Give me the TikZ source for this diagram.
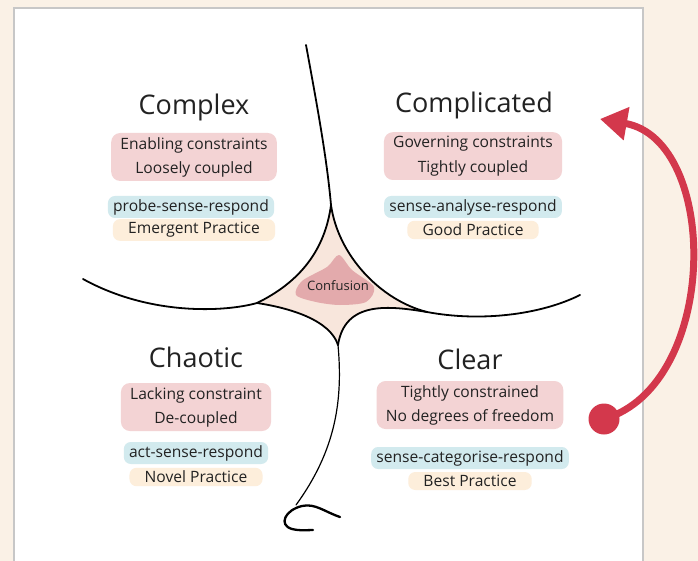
\documentclass[tikz,border=0pt]{standalone}
\usepackage{fontspec}
\setmainfont{Open Sans}
\usetikzlibrary{positioning,fit,arrows.meta}
\definecolor{cream}{HTML}{FAF1E6}
\definecolor{ink}{HTML}{222222}
\definecolor{blush}{HTML}{F3D3D4}
\definecolor{sky}{HTML}{D2EAEE}
\definecolor{apricot}{HTML}{FDEEDB}
\definecolor{flesh}{HTML}{F8E6DC}
\definecolor{rose}{HTML}{E3AAAC}
\definecolor{signal}{HTML}{D3384C}
\pgfdeclarelayer{paper}
\pgfdeclarelayer{wash}
\pgfsetlayers{paper,wash,main}
\begin{document}
\begin{tikzpicture}[x=1pt,y=-1pt,
  zonetitle/.style={font=\fontsize{27}{29}\selectfont,text=ink},
  zoneitem/.style={font=\fontsize{15.6}{17}\selectfont,text=ink,inner sep=1pt},
  pinkwash/.style={fill=blush,rounded corners=9pt,inner xsep=8pt,inner ysep=3pt},
  bluewash/.style={fill=sky,rounded corners=7pt,inner xsep=4pt,inner ysep=2pt},
  peachwash/.style={fill=apricot,rounded corners=7pt,inner xsep=14pt,inner ysep=2pt},
  stroke/.style={draw=black,line width=1.8pt,line cap=round}]
\useasboundingbox (0,0) rectangle (698,561);
\begin{pgfonlayer}{paper}
\fill[cream] (0,0) rectangle (698,561);
\draw[fill=white,draw=black!22,line width=1.5pt] (14,8) rectangle (643,575);
\end{pgfonlayer}
\node [zonetitle] (cx) at (194,107) {Complex};
\node [zoneitem] (cx1) at (194,145) {Enabling constraints};
\node [zoneitem] (cx2) at (194,169) {Loosely coupled};
\node [zoneitem] (cx3) at (191,207) {probe-sense-respond};
\node [zoneitem] (cx4) at (194,230) {Emergent Practice};
\node [zonetitle] (cd) at (474,105) {Complicated};
\node [zoneitem] (cd1) at (473,144) {Governing constraints};
\node [zoneitem] (cd2) at (473,168) {Tightly coupled};
\node [zoneitem] (cd3) at (473,207) {sense-analyse-respond};
\node [zoneitem] (cd4) at (473,230) {Good Practice};
\node [zonetitle] (ch) at (196,357) {Chaotic};
\node [zoneitem] (ch1) at (196,395) {Lacking constraint};
\node [zoneitem] (ch2) at (196,419) {De-coupled};
\node [zoneitem] (ch3) at (196,453) {act-sense-respond};
\node [zoneitem] (ch4) at (196,477) {Novel Practice};
\node [zonetitle] (cl) at (470,359) {Clear};
\node [zoneitem] (cl1) at (470,393) {Tightly constrained};
\node [zoneitem] (cl2) at (470,417) {No degrees of freedom};
\node [zoneitem] (cl3) at (470,458) {sense-categorise-respond};
\node [zoneitem] (cl4) at (470,481) {Best Practice};
\begin{pgfonlayer}{wash}
\node [pinkwash,fit=(cx1)(cx2)] (cxp) {};
\node [bluewash,fit=(cx3)] (cxb) {};
\node [peachwash,fit=(cx4)] (cxo) {};
\node [pinkwash,fit=(cd1)(cd2)] (cdp) {};
\node [bluewash,fit=(cd3)] (cdb) {};
\node [peachwash,fit=(cd4)] (cdo) {};
\node [pinkwash,fit=(ch1)(ch2)] (chp) {};
\node [bluewash,fit=(ch3)] (chb) {};
\node [peachwash,fit=(ch4)] (cho) {};
\node [pinkwash,fit=(cl1)(cl2)] (clp) {};
\node [bluewash,fit=(cl3)] (clb) {};
\node [peachwash,fit=(cl4)] (clo) {};
\fill[flesh] (331,205) .. controls (338,255) and (380,300) .. (427,312)
  .. controls (390,306) and (345,300) .. (338,345)
  .. controls (330,320) and (290,308) .. (257,303)
  .. controls (300,282) and (325,250) .. cycle;
\fill[rose] plot[smooth cycle] coordinates {(339,255) (352,270) (374,287) (366,302) (340,305) (316,302) (296,295) (302,281) (327,267)};
\end{pgfonlayer}
\node [font=\fontsize{13}{15}\selectfont,text=ink] (confusion) at (338,286) {Confusion};
\coordinate (apex) at (331,205);
\coordinate (foot) at (338,345);
\coordinate (west) at (257,303);
\coordinate (east) at (427,312);
\draw [stroke] (83,279) .. controls (150,316) and (225,312) .. (west)
  .. controls (300,282) and (325,250) .. (apex)
  .. controls (327,160) and (318,110) .. (306,45);
\draw [stroke] (apex) .. controls (338,255) and (380,300) .. (east)
  .. controls (480,322) and (540,315) .. (580,295);
\draw [stroke] (west) .. controls (290,308) and (330,320) .. (foot);
\draw [stroke] (foot) .. controls (345,300) and (390,306) .. (east);
\draw [stroke,line width=1.2pt] (foot) .. controls (343,400) and (336,450) .. (296,505);
\draw [stroke,line width=2.3pt] (340,517) .. controls (325,512) and (315,503) .. (302,506)
  .. controls (285,510) and (278,525) .. (292,529) .. controls (300,531) and (308,530) .. (313,530);
\node [circle,fill=signal,minimum size=31pt,inner sep=0pt] (dot) at (604,419) {};
\draw [signal,line width=7pt,-{Triangle[length=27pt,width=32pt]}] (dot.center)
  .. controls (720,385) and (720,140) .. (600,119);
\end{tikzpicture}
\end{document}
